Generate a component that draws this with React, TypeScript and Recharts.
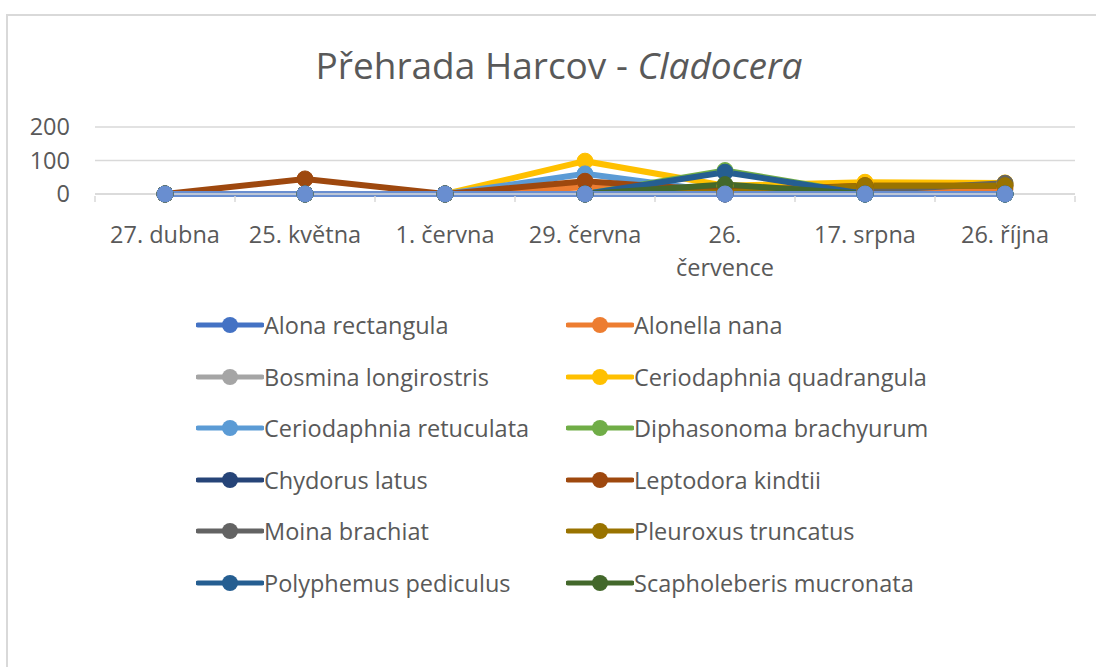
import { LineChart, Line, XAxis, YAxis, CartesianGrid, Legend } from 'recharts'

const categories = ['27. dubna', '25. května', '1. června', '29. června', '26. července', '17. srpna', '26. října']

const alonaRectangula = [0, 0, 0, 0, 0, 0, 0]
const alonellaNana = [0, 0, 0, 20, 5, 10, 15]
const bosminaLongirostris = [0, 0, 0, 0, 0, 0, 0]
const ceriodaphniaQuadrangula = [0, 0, 0, 98, 25, 35, 33]
const ceriodaphniaRetuculata = [0, 0, 0, 60, 5, 0, 0]
const diphasonomaBrachyurum = [0, 0, 0, 0, 70, 0, 0]
const chydorusLatus = [0, 0, 0, 0, 0, 0, 0]
const leptodoraKindtii = [0, 45, 0, 38, 10, 25, 25]
const moinaBrachiat = [0, 0, 0, 0, 0, 10, 32]
const pleuroxusTruncatus = [0, 0, 0, 0, 5, 25, 25]
const polyphemusPediculus = [0, 0, 0, 0, 65, 0, 0]
const scapholeberisMucronata = [0, 0, 0, 0, 28, 0, 0]
// series not listed in the legend, drawn on top at zero
const ostatni = [0, 0, 0, 0, 0, 0, 0]

const yTicks = [0, 100, 200]

const series = [
  { key: 'a', name: 'Alona rectangula', values: alonaRectangula, color: '#4472C4' },
  { key: 'b', name: 'Alonella nana', values: alonellaNana, color: '#ED7D31' },
  { key: 'c', name: 'Bosmina longirostris', values: bosminaLongirostris, color: '#A5A5A5' },
  { key: 'd', name: 'Ceriodaphnia quadrangula', values: ceriodaphniaQuadrangula, color: '#FFC000' },
  { key: 'e', name: 'Ceriodaphnia retuculata', values: ceriodaphniaRetuculata, color: '#5B9BD5' },
  { key: 'f', name: 'Diphasonoma brachyurum', values: diphasonomaBrachyurum, color: '#70AD47' },
  { key: 'g', name: 'Chydorus latus', values: chydorusLatus, color: '#264478' },
  { key: 'h', name: 'Leptodora kindtii', values: leptodoraKindtii, color: '#9E480E' },
  { key: 'i', name: 'Moina brachiat', values: moinaBrachiat, color: '#636363' },
  { key: 'j', name: 'Pleuroxus truncatus', values: pleuroxusTruncatus, color: '#997300' },
  { key: 'k', name: 'Polyphemus pediculus', values: polyphemusPediculus, color: '#255E91' },
  { key: 'l', name: 'Scapholeberis mucronata', values: scapholeberisMucronata, color: '#43682B' },
  { key: 'm', name: 'Ostatní', values: ostatni, color: '#698ED0', hidden: true },
]

const data = categories.map((c, i) => {
  const row: any = { date: c }
  series.forEach((s) => (row[s.key] = s.values[i]))
  return row
})

const FONT = '"Open Sans", "Noto Sans", sans-serif'
const TEXT = '#595959'
const GRID = '#d9d9d9'
const PLOT_LEFT = 95
const PLOT_RIGHT = 1075
const HALF_BAND = (PLOT_RIGHT - PLOT_LEFT) / categories.length / 2

function XTick(props: any) {
  const { x, y, payload, index } = props
  const label: string = payload.value
  const lines = label.length > 10 ? label.split(' ') : [label]
  return (
    <g>
      <line x1={x - HALF_BAND} x2={x - HALF_BAND} y1={y} y2={y + 6} stroke={GRID} strokeWidth={1.5} />
      {index === categories.length - 1 && (
        <line x1={x + HALF_BAND} x2={x + HALF_BAND} y1={y} y2={y + 6} stroke={GRID} strokeWidth={1.5} />
      )}
      {lines.map((l, i) => (
        <text
          key={i}
          x={x}
          y={y + 38 + i * 33}
          textAnchor="middle"
          dominantBaseline="central"
          fontSize={23.5}
          fontFamily={FONT}
          fill={TEXT}
        >
          {l}
        </text>
      ))}
    </g>
  )
}

function LegendContent() {
  const items = series.filter((s) => !s.hidden)
  return (
    <div style={{ position: 'relative', width: 1096, height: 320 }}>
      {items.map((it, i) => {
        const col = i % 2
        const row = Math.floor(i / 2)
        return (
          <div
            key={it.key}
            style={{
              position: 'absolute',
              left: col === 0 ? 196 : 566,
              top: 325 + row * 51.6 - 15,
              height: 30,
              display: 'flex',
              alignItems: 'center',
              fontFamily: FONT,
              fontSize: 23.5,
              color: TEXT,
              whiteSpace: 'nowrap',
            }}
          >
            <svg width={68} height={30}>
              <line x1={2} x2={66} y1={15} y2={15} stroke={it.color} strokeWidth={5} strokeLinecap="round" />
              <circle cx={34} cy={15} r={8} fill={it.color} />
            </svg>
            <span>{it.name}</span>
          </div>
        )
      })}
    </div>
  )
}

export default function App() {
  return (
    <div
      style={{
        position: 'fixed',
        left: 0,
        top: 0,
        width: 1096,
        height: 667,
        overflow: 'hidden',
        background: '#fff',
      }}
    >
      <div
        style={{
          position: 'absolute',
          left: 6,
          top: 14,
          width: 1200,
          height: 800,
          border: `2px solid ${GRID}`,
        }}
      />
      <div
        style={{
          position: 'absolute',
          left: 0,
          top: 40,
          width: 1118,
          textAlign: 'center',
          fontFamily: FONT,
          fontSize: 37,
          color: TEXT,
          lineHeight: '50px',
        }}
      >
        Přehrada Harcov - <i>Cladocera</i>
      </div>
      <div style={{ position: 'absolute', left: 0, top: 0 }}>
        <LineChart
          width={1096}
          height={667}
          data={data}
          margin={{ top: 127, right: 1096 - PLOT_RIGHT, left: 0, bottom: 667 - 194 - 100 }}
        >
          <CartesianGrid vertical={false} stroke={GRID} strokeWidth={1.5} />
          <XAxis
            dataKey="date"
            scale="band"
            height={100}
            interval={0}
            axisLine={{ stroke: GRID, strokeWidth: 1.5 }}
            tickLine={false}
            tickSize={0}
            tick={<XTick />}
          />
          <YAxis
            width={PLOT_LEFT}
            domain={[0, 200]}
            ticks={yTicks}
            axisLine={false}
            tickLine={false}
            tickSize={0}
            tickMargin={25}
            tick={{ fontSize: 23.5, fontFamily: FONT, fill: TEXT }}
          />
          <Legend
            layout="vertical"
            align="center"
            verticalAlign="middle"
            wrapperStyle={{ position: 'absolute', left: 0, top: 0, width: 1096 }}
            content={<LegendContent />}
          />
          {series.map((s) => (
            <Line
              key={s.key}
              dataKey={s.key}
              name={s.name}
              stroke={s.color}
              strokeWidth={6}
              dot={{ r: 8, fill: s.color, stroke: s.color, strokeWidth: 1 }}
              activeDot={false}
              legendType={s.hidden ? 'none' : 'line'}
              isAnimationActive={false}
            />
          ))}
        </LineChart>
      </div>
    </div>
  )
}
